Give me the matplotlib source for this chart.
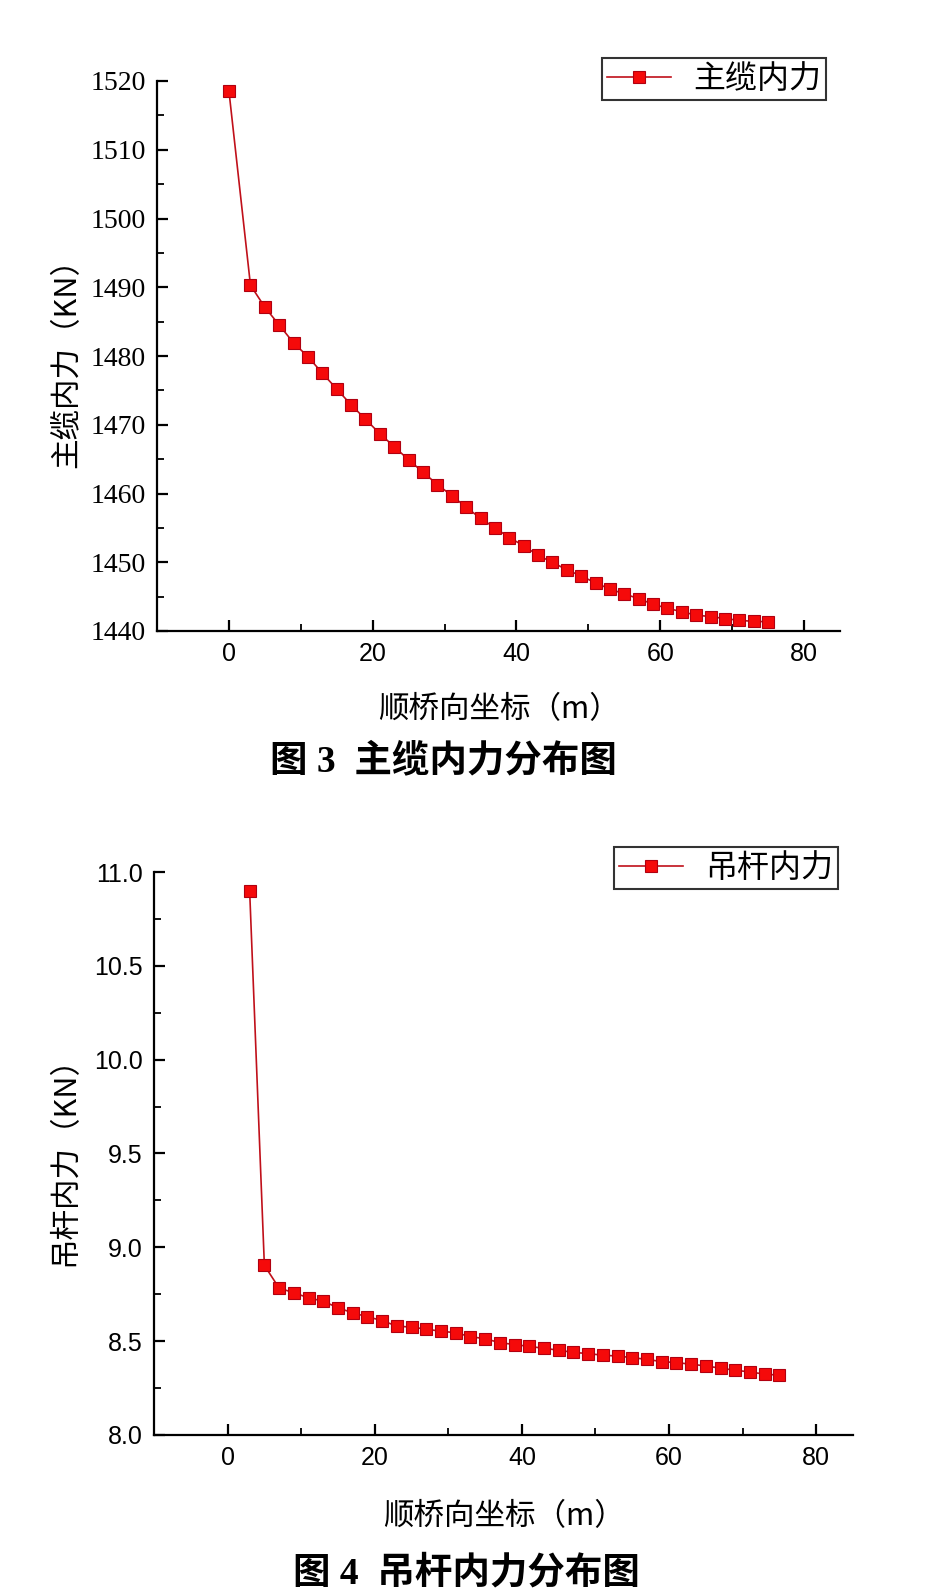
import matplotlib
matplotlib.use("Agg")
import matplotlib.pyplot as plt
from matplotlib.ticker import MultipleLocator, FormatStrFormatter

plt.rcParams['font.family'] = ['Noto Sans CJK SC', 'DejaVu Sans']

# ---------------- data ----------------
cable_x = [0, 3, 5, 7, 9, 11, 13, 15, 17, 19, 21, 23, 25, 27, 29, 31, 33, 35, 37,
           39, 41, 43, 45, 47, 49, 51, 53, 55, 57, 59, 61, 63, 65, 67, 69, 71, 73, 75]
cable_force = [1518.6, 1490.3, 1487.1, 1484.5, 1481.9, 1479.9, 1477.5, 1475.2, 1472.9,
               1470.8, 1468.7, 1466.8, 1464.9, 1463.1, 1461.3, 1459.7, 1458.0, 1456.4,
               1455.0, 1453.6, 1452.4, 1451.0, 1450.0, 1448.9, 1448.0, 1447.0, 1446.1,
               1445.4, 1444.7, 1443.9, 1443.3, 1442.8, 1442.3, 1442.1, 1441.8, 1441.55,
               1441.4, 1441.35]

hanger_x = [3, 5, 7, 9, 11, 13, 15, 17, 19, 21, 23, 25, 27, 29, 31, 33, 35, 37,
            39, 41, 43, 45, 47, 49, 51, 53, 55, 57, 59, 61, 63, 65, 67, 69, 71, 73, 75]
hanger_force = [10.90, 8.904, 8.783, 8.758, 8.731, 8.713, 8.678, 8.651, 8.630, 8.610,
                8.580, 8.575, 8.564, 8.553, 8.545, 8.524, 8.513, 8.492, 8.482, 8.472,
                8.462, 8.452, 8.440, 8.434, 8.425, 8.421, 8.412, 8.403, 8.391, 8.386,
                8.377, 8.368, 8.356, 8.345, 8.336, 8.324, 8.319]

cable_label = "主缆内力"
hanger_label = "吊杆内力"
xlabel = "顺桥向坐标（m）"
cable_ylabel = "主缆内力（KN）"
hanger_ylabel = "吊杆内力（KN）"
caption3 = "图 3  主缆内力分布图"
caption4 = "图 4  吊杆内力分布图"

W, H = 936, 1596
fig = plt.figure(figsize=(W / 100, H / 100), dpi=100)

CJK = ['Noto Sans CJK SC', 'DejaVu Sans']
line_kw = dict(color='#c0101a', lw=1.2, marker='s', markersize=8,
               markerfacecolor='#f50a0a', markeredgecolor='#b00010', markeredgewidth=0.8)


def style_axes(ax, xfont, yfont):
    for s in ['top', 'right']:
        ax.spines[s].set_visible(False)
    for s in ['left', 'bottom']:
        ax.spines[s].set_linewidth(1.6)
    ax.tick_params(which='major', direction='in', length=8, width=1.6, pad=8)
    ax.tick_params(which='minor', direction='in', length=5, width=1.3)
    for lab in ax.get_xticklabels():
        lab.set_family(xfont)
        lab.set_fontsize(18)
    for lab in ax.get_yticklabels():
        lab.set_family(yfont)
        lab.set_fontsize(20 if yfont == 'Liberation Serif' else 18)


def px_axes(l, t, r, b):
    return fig.add_axes([l / W, 1 - b / H, (r - l) / W, (b - t) / H])


def add_legend(ax, right, top):
    leg = ax.legend(loc='upper right', bbox_to_anchor=(right / W, 1 - top / H),
                    bbox_transform=fig.transFigure, borderaxespad=0,
                    prop={'family': CJK, 'size': 23}, frameon=True, fancybox=False,
                    handlelength=2.0, borderpad=0.15, handletextpad=0.7)
    leg.get_frame().set_edgecolor('black')
    leg.get_frame().set_linewidth(1.5)
    return leg


# ---------------- top chart ----------------
ax1 = px_axes(157, 81, 840, 631)
ax1.plot(cable_x, cable_force, label=cable_label, **line_kw)
ax1.set_xlim(-10, 85)
ax1.set_ylim(1440, 1520)
ax1.xaxis.set_major_locator(MultipleLocator(20))
ax1.xaxis.set_minor_locator(MultipleLocator(10))
ax1.yaxis.set_major_locator(MultipleLocator(10))
ax1.yaxis.set_minor_locator(MultipleLocator(5))
style_axes(ax1, 'Liberation Sans', 'Liberation Serif')
ax1.set_xlabel(xlabel, family=CJK, fontsize=22, labelpad=20)
ax1.set_ylabel(cable_ylabel, family=CJK, fontsize=22, labelpad=6)
add_legend(ax1, 826, 58)
fig.text(443 / W, 1 - 761 / H, caption3, ha='center', va='center',
         family=['Liberation Serif', 'Noto Sans CJK SC'], fontsize=27, weight='bold')

# ---------------- bottom chart ----------------
ax2 = px_axes(154, 872, 853, 1435)
ax2.plot(hanger_x, hanger_force, label=hanger_label, **line_kw)
ax2.set_xlim(-10, 85)
ax2.set_ylim(8.0, 11.0)
ax2.xaxis.set_major_locator(MultipleLocator(20))
ax2.xaxis.set_minor_locator(MultipleLocator(10))
ax2.yaxis.set_major_locator(MultipleLocator(0.5))
ax2.yaxis.set_minor_locator(MultipleLocator(0.25))
ax2.yaxis.set_major_formatter(FormatStrFormatter('%.1f'))
style_axes(ax2, 'Liberation Sans', 'Liberation Sans')
ax2.set_xlabel(xlabel, family=CJK, fontsize=22, labelpad=22)
ax2.set_ylabel(hanger_ylabel, family=CJK, fontsize=22, labelpad=10)
add_legend(ax2, 838, 847)
fig.text(466 / W, 1 - 1574 / H, caption4, ha='center', va='center',
         family=['Liberation Serif', 'Noto Sans CJK SC'], fontsize=27, weight='bold')

fig.savefig('out.png', dpi=100)
